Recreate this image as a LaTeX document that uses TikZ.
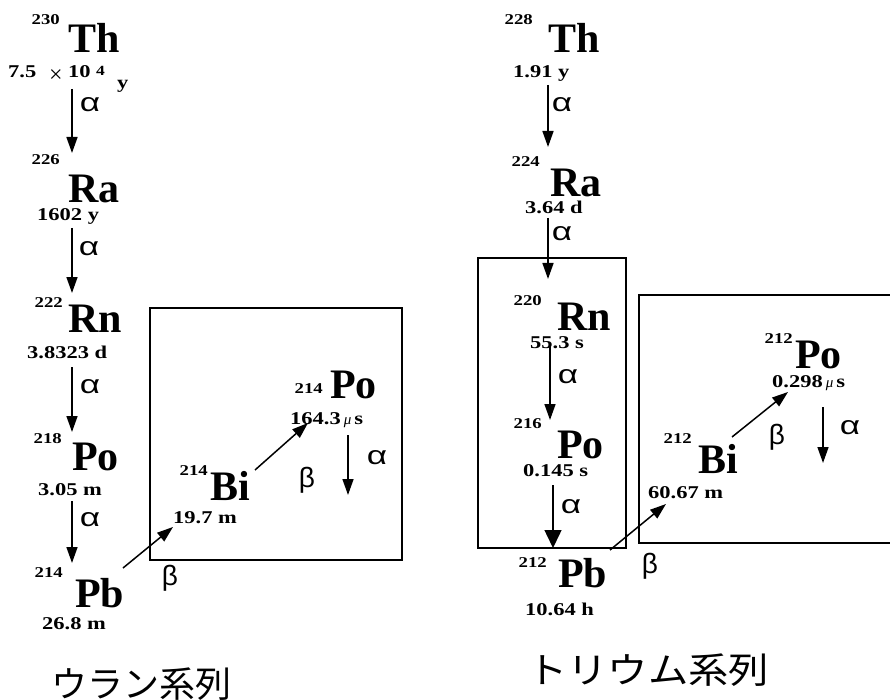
\documentclass[tikz,border=0pt]{standalone}
\usepackage{fontspec}
\usepackage{graphicx}
\setmainfont{Liberation Serif}
\setsansfont{Liberation Sans}
\newfontfamily\cjk{Noto Sans CJK JP}
\usetikzlibrary{arrows.meta}
\newcommand{\hstr}[1]{\scalebox{1.25}[1]{#1}}
\newcommand{\astr}[1]{\scalebox{1.35}[1]{#1}}
\newcommand{\mus}{{\mdseries\itshape\fontsize{15}{18}\selectfont μ}}
\tikzset{
 sym/.style={font=\fontsize{42}{48}\selectfont\bfseries, inner sep=0pt, anchor=base west},
 mass/.style={font=\fontsize{15}{18}\selectfont\bfseries, inner sep=0pt, anchor=base east},
 hl/.style={font=\fontsize{18}{22}\selectfont\bfseries, inner sep=0pt, anchor=base west},
 gla/.style={font=\fontsize{26}{30}\selectfont\sffamily, inner sep=0pt},
 glb/.style={font=\fontsize{28}{32}\selectfont\sffamily, inner sep=0pt},
 decay/.style={line width=1.5pt, -{Triangle[length=16pt,width=11pt]}},
 bigdecay/.style={line width=1.5pt, -{Triangle[length=18pt,width=17pt]}},
 frame/.style={line width=1.5pt},
 series/.style={font=\cjk\fontsize{36}{40}\selectfont, inner sep=0pt}
}
\begin{document}
\begin{tikzpicture}[x=1pt,y=-1pt]
\useasboundingbox (0,0) rectangle (890,700);

% ---------------- Uranium series ----------------
\node[sym] (th230) at (68,53) {Th};
\node[mass] (th230m) at (60,25) {\hstr{230}};
\node[hl] (th230a) at (8,78) {\hstr{7.5}};
\node[anchor=base west, inner sep=0pt, font=\fontsize{24}{28}\selectfont] (th230x) at (49,83) {×};
\node[hl] (th230b) at (68,78) {\hstr{10}};
\node[anchor=base west, inner sep=0pt, font=\fontsize{14}{16}\selectfont\bfseries] (th230e) at (96,76) {\hstr{4}};
\node[hl] (th230y) at (117,89) {\hstr{y}};
\coordinate (u1s) at (72,89); \coordinate (u1e) at (72,153);
\draw[decay] (u1s) -- (u1e);
\node[gla] (u1a) at (90,105) {\astr{α}};

\node[sym] (ra226) at (68,203) {Ra};
\node[mass] (ra226m) at (60,165) {\hstr{226}};
\node[hl] (ra226h) at (37,221) {\hstr{1602 y}};
\coordinate (u2s) at (72,228); \coordinate (u2e) at (72,293);
\draw[decay] (u2s) -- (u2e);
\node[gla] (u2a) at (89,249) {\astr{α}};

\node[sym] (rn222) at (68,332) {Rn};
\node[mass] (rn222m) at (63,307) {\hstr{222}};
\node[hl] (rn222h) at (27,358) {\hstr{3.8323 d}};
\coordinate (u3s) at (72,367); \coordinate (u3e) at (72,432);
\draw[decay] (u3s) -- (u3e);
\node[gla] (u3a) at (90,387) {\astr{α}};

\node[sym] (po218) at (72,470) {Po};
\node[mass] (po218m) at (62,443) {\hstr{218}};
\node[hl] (po218h) at (38,495) {\hstr{3.05 m}};
\coordinate (u4s) at (72,501); \coordinate (u4e) at (72,563);
\draw[decay] (u4s) -- (u4e);
\node[gla] (u4a) at (90,520) {\astr{α}};

\node[sym] (pb214) at (75,607) {Pb};
\node[mass] (pb214m) at (63,577) {\hstr{214}};
\node[hl] (pb214h) at (42,629) {\hstr{26.8 m}};

\draw[frame] (150,308) rectangle (402,560);
\coordinate (u5s) at (123,568); \coordinate (u5e) at (173,527);
\draw[decay] (u5s) -- (u5e);
\node[glb] (u5b) at (170,578) {β};

\node[sym] (bi214) at (210,500) {Bi};
\node[mass] (bi214m) at (208,475) {\hstr{214}};
\node[hl] (bi214h) at (173,523) {\hstr{19.7 m}};
\coordinate (u6s) at (255,470); \coordinate (u6e) at (308,423);
\draw[decay] (u6s) -- (u6e);
\node[glb] (u6b) at (307,480) {β};

\node[sym] (po214) at (330,398) {Po};
\node[mass] (po214m) at (323,393) {\hstr{214}};
\node[hl] (po214h) at (290,424) {\hstr{164.3}\,\mus\,\hstr{s}};
\coordinate (u7s) at (348,435); \coordinate (u7e) at (348,495);
\draw[decay] (u7s) -- (u7e);
\node[gla] (u7a) at (377,458) {\astr{α}};

\node[series] (useries) at (141,684) {ウラン系列};

% ---------------- Thorium series ----------------
\node[sym] (th228) at (548,53) {Th};
\node[mass] (th228m) at (533,25) {\hstr{228}};
\node[hl] (th228h) at (513,78) {\hstr{1.91 y}};
\coordinate (t1s) at (548,85); \coordinate (t1e) at (548,147);
\draw[decay] (t1s) -- (t1e);
\node[gla] (t1a) at (562,105) {\astr{α}};

\node[sym] (ra224) at (550,197) {Ra};
\node[mass] (ra224m) at (540,167) {\hstr{224}};
\node[hl] (ra224h) at (525,214) {\hstr{3.64 d}};
\coordinate (t2s) at (548,218); \coordinate (t2e) at (548,279);
\draw[decay] (t2s) -- (t2e);
\node[gla] (t2a) at (562,234) {\astr{α}};

\draw[frame] (478,258) rectangle (626,548);

\node[sym] (rn220) at (557,330) {Rn};
\node[mass] (rn220m) at (542,305) {\hstr{220}};
\node[hl] (rn220h) at (530,348) {\hstr{55.3 s}};
\coordinate (t3s) at (550,346); \coordinate (t3e) at (550,420);
\draw[decay] (t3s) -- (t3e);
\node[gla] (t3a) at (568,377) {\astr{α}};

\node[sym] (po216) at (557,458) {Po};
\node[mass] (po216m) at (542,428) {\hstr{216}};
\node[hl] (po216h) at (523,476) {\hstr{0.145 s}};
\coordinate (t4s) at (553,485); \coordinate (t4e) at (553,548);
\draw[bigdecay] (t4s) -- (t4e);
\node[gla] (t4a) at (571,507) {\astr{α}};

\node[sym] (pb212) at (558,587) {Pb};
\node[mass] (pb212m) at (547,567) {\hstr{212}};
\node[hl] (pb212h) at (525,615) {\hstr{10.64 h}};

\draw[frame] (890,295) -- (639,295) -- (639,543) -- (890,543);
\coordinate (t5s) at (610,550); \coordinate (t5e) at (666,504);
\draw[decay] (t5s) -- (t5e);
\node[glb] (t5b) at (650,566) {β};

\node[sym] (bi212) at (698,473) {Bi};
\node[mass] (bi212m) at (692,443) {\hstr{212}};
\node[hl] (bi212h) at (648,498) {\hstr{60.67 m}};
\coordinate (t6s) at (732,437); \coordinate (t6e) at (788,392);
\draw[decay] (t6s) -- (t6e);
\node[glb] (t6b) at (777,437) {β};

\node[sym] (po212) at (795,368) {Po};
\node[mass] (po212m) at (793,343) {\hstr{212}};
\node[hl] (po212h) at (772,387) {\hstr{0.298}\,\mus\,\hstr{s}};
\coordinate (t7s) at (823,407); \coordinate (t7e) at (823,463);
\draw[decay] (t7s) -- (t7e);
\node[gla] (t7a) at (850,428) {\astr{α}};

\node[series] (tseries) at (648,670) {\scalebox{1.12}[1]{トリウム系列}};
\end{tikzpicture}
\end{document}
